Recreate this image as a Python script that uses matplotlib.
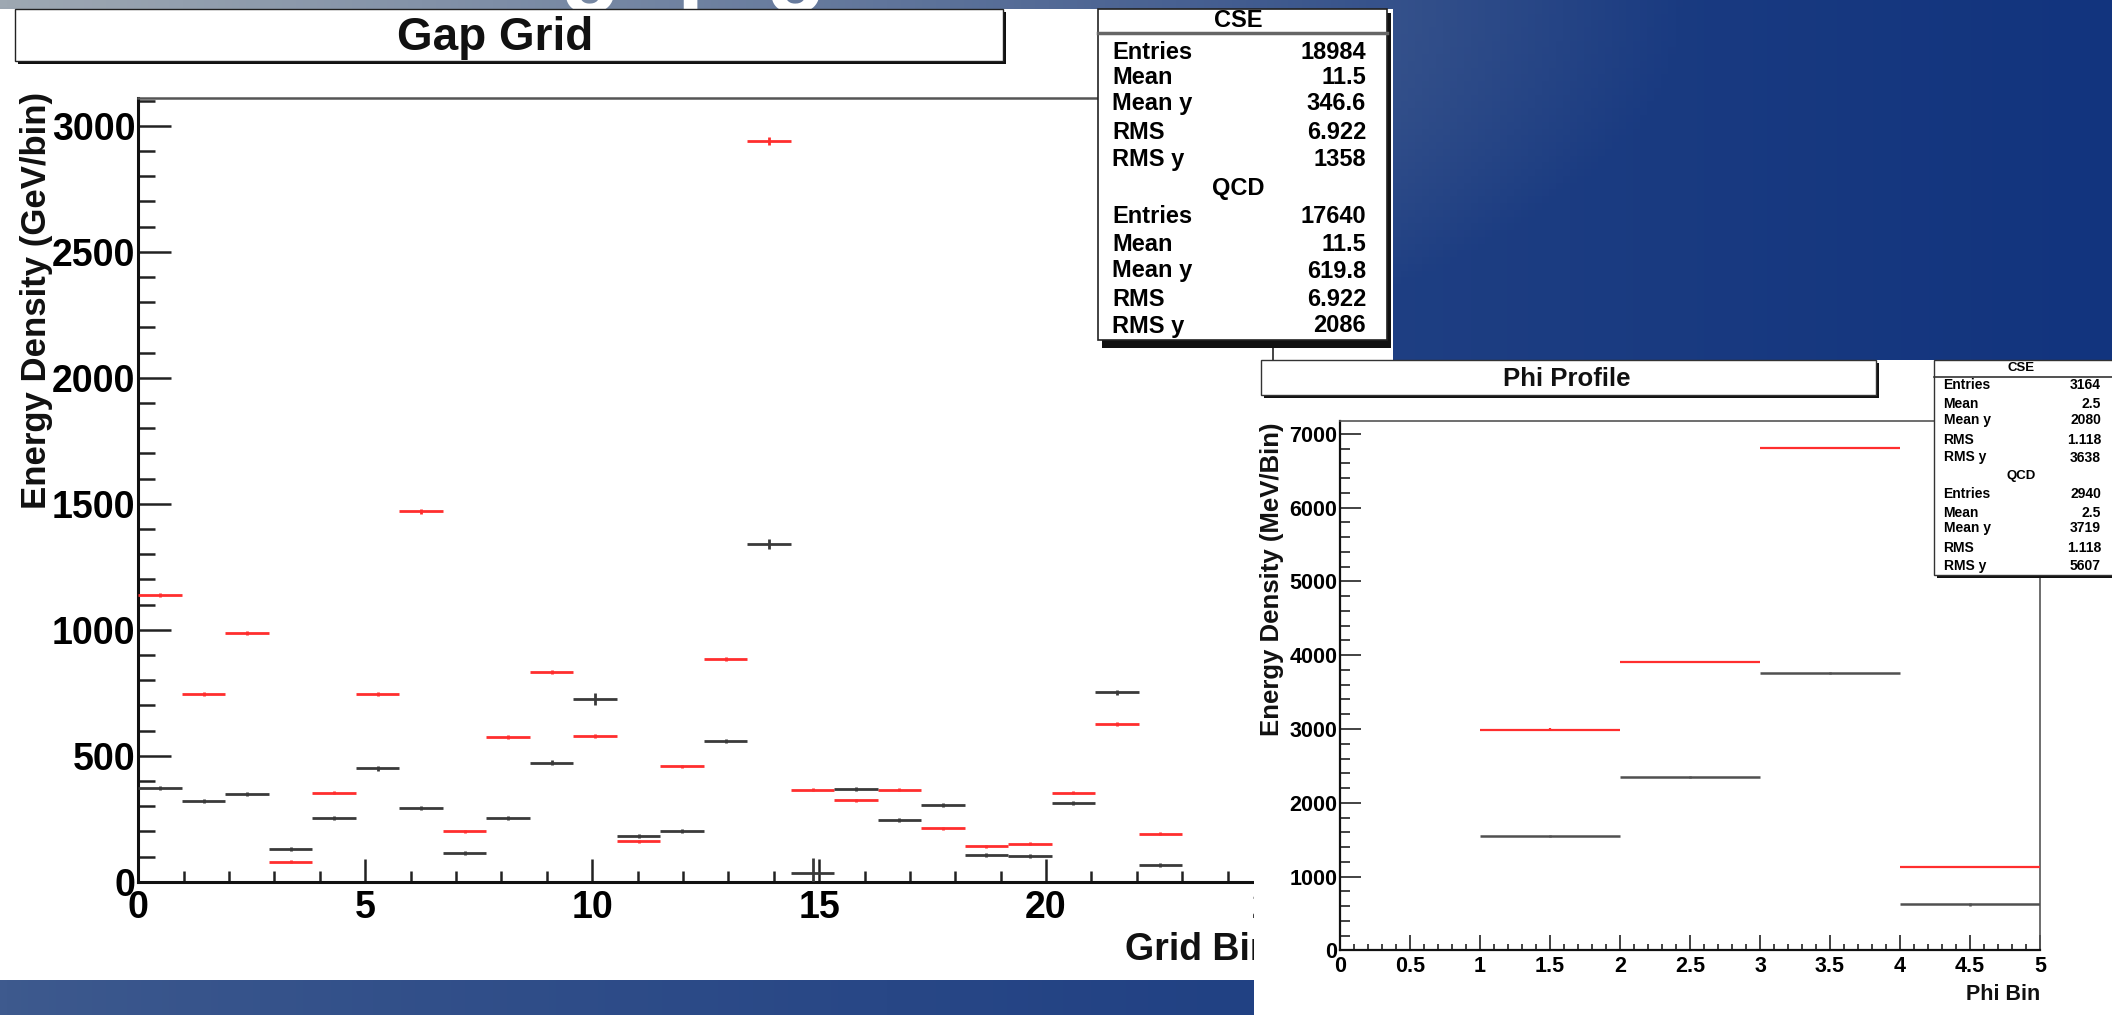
import numpy as np
import matplotlib
matplotlib.use("Agg")
import matplotlib.pyplot as plt
from matplotlib.patches import Rectangle
from matplotlib.ticker import MultipleLocator

plt.rcParams['font.family'] = ['Liberation Sans', 'DejaVu Sans']
plt.rcParams['font.weight'] = 'bold'

# ------------------------------------------------------------------ data
grid_title = "Gap Grid"
grid_xlabel = "Grid Bin"
grid_ylabel = "Energy Density (GeV/bin)"
grid_nbins = 24
grid_lo, grid_hi = 0.0, 23.0
grid_cse = [371, 321, 348, 131, 251, 451, 291, 113, 251, 472, 725, 181,
            202, 558, 1340, 33, 367, 244, 304, 106, 103, 311, 752, 66]
grid_cse_err = [8, 8, 8, 8, 8, 10, 8, 8, 8, 10, 23, 8,
                8, 8, 20, 60, 8, 8, 8, 8, 8, 8, 10, 8]
grid_qcd = [1138, 744, 987, 79, 353, 744, 1470, 200, 575, 831, 579, 161,
            458, 882, 2940, 364, 323, 364, 212, 140, 150, 353, 626, 190]
grid_qcd_err = [8, 8, 8, 6, 6, 8, 10, 6, 8, 8, 8, 6,
                6, 8, 16, 6, 6, 6, 6, 6, 6, 6, 8, 6]
grid_stats_cse = [("Entries", "18984"), ("Mean", "11.5"), ("Mean y", "346.6"),
                  ("RMS", "6.922"), ("RMS y", "1358")]
grid_stats_qcd = [("Entries", "17640"), ("Mean", "11.5"), ("Mean y", "619.8"),
                  ("RMS", "6.922"), ("RMS y", "2086")]

phi_title = "Phi Profile"
phi_xlabel = "Phi Bin"
phi_ylabel = "Energy Density (MeV/Bin)"
phi_edges = [1, 2, 3, 4, 5]
phi_cse = [1546, 2350, 3762, 623]
phi_qcd = [2992, 3913, 6808, 1130]
phi_err = [15, 15, 15, 15]
phi_stats_cse = [("Entries", "3164"), ("Mean", "2.5"), ("Mean y", "2080"),
                 ("RMS", "1.118"), ("RMS y", "3638")]
phi_stats_qcd = [("Entries", "2940"), ("Mean", "2.5"), ("Mean y", "3719"),
                 ("RMS", "1.118"), ("RMS y", "5607")]

# ------------------------------------------------------------------ layout helpers
W, H, DPI = 2112, 1015, 100
fig = plt.figure(figsize=(W / DPI, H / DPI), dpi=DPI)


def rect(x0, y0, x1, y1):
    return [x0 / W, 1 - y1 / H, (x1 - x0) / W, (y1 - y0) / H]


def overlay(z):
    a = fig.add_axes([0, 0, 1, 1], zorder=z)
    a.set_xlim(0, W)
    a.set_ylim(H, 0)
    a.set_axis_off()
    a.patch.set_alpha(0)
    return a


RED = '#ff2e2e'
BLK = '#3a3a3a'

# ------------------------------------------------------------------ background
ax_bg = overlay(0)
nx, ny = 300, 150
xx = np.linspace(0, 1, nx)[None, :]
yy = np.linspace(0, 1, ny)[:, None]
base_l = np.array([62, 90, 142]) / 255
base_r = np.array([18, 52, 126]) / 255
t = (xx ** 0.8) * np.ones_like(yy)
img = base_l * (1 - t[..., None]) + base_r * t[..., None]
grey = np.array([158, 168, 178]) / 255
g = np.clip(1 - np.sqrt((xx / 0.8) ** 2 + (yy / 0.5) ** 2), 0, 1)
img = img * (1 - g[..., None]) + grey * g[..., None]
ax_bg.imshow(img, extent=[0, W, H, 0], aspect='auto', zorder=0)
ax_bg.text(560, -8, "gap g", color='white', fontsize=72, fontweight='bold',
           ha='left', va='baseline', zorder=1)
ax_bg.add_patch(Rectangle((0, 9), 1393, 971, facecolor='white', edgecolor='none', zorder=2))

# ------------------------------------------------------------------ left plot
axL = fig.add_axes(rect(138.3, 98, 1273, 881.7), zorder=1)
edges = np.linspace(grid_lo, grid_hi, grid_nbins + 1)
cent = 0.5 * (edges[:-1] + edges[1:])
hw = 0.5 * np.diff(edges)
axL.errorbar(cent, grid_qcd, xerr=hw, yerr=grid_qcd_err, fmt='none',
             ecolor=RED, elinewidth=2.0, capsize=0, zorder=3)
axL.errorbar(cent, grid_cse, xerr=hw, yerr=grid_cse_err, fmt='none',
             ecolor=BLK, elinewidth=2.0, capsize=0, zorder=3)
axL.set_xlim(0, 25)
axL.set_ylim(0, 3110)
axL.xaxis.set_major_locator(MultipleLocator(5))
axL.xaxis.set_minor_locator(MultipleLocator(1))
axL.yaxis.set_major_locator(MultipleLocator(500))
axL.yaxis.set_minor_locator(MultipleLocator(100))
axL.tick_params(axis='both', which='both', direction='in', top=False, right=False,
                width=1.8, color='#222222')
axL.tick_params(axis='y', which='major', length=23.8, pad=2, labelsize=27)
axL.tick_params(axis='y', which='minor', length=12.2)
axL.tick_params(axis='x', which='major', length=16.5, pad=6, labelsize=27)
axL.tick_params(axis='x', which='minor', length=8)
for lab in axL.get_xticklabels() + axL.get_yticklabels():
    lab.set_fontweight('bold')
for s in ('left', 'bottom'):
    axL.spines[s].set_linewidth(2.2)
    axL.spines[s].set_color('#111111')
axL.spines['top'].set_linewidth(1.8)
axL.spines['top'].set_color('#555555')
axL.spines['right'].set_linewidth(1.4)
axL.spines['right'].set_color('#444444')

decoL = overlay(2)
decoL.text(37, 92, grid_ylabel, rotation=90, ha='center', va='top',
           fontsize=25, fontweight='bold', color='#111111')
decoL.text(1273, 950, grid_xlabel, ha='right', va='center',
           fontsize=27, fontweight='bold', color='#111111')
# title box with shadow
decoL.add_patch(Rectangle((18, 12), 988, 52, facecolor='#111111', edgecolor='none', zorder=1))
decoL.add_patch(Rectangle((15, 9), 988, 52, facecolor='white', edgecolor='#222222',
                          linewidth=1.0, zorder=2))
decoL.text(495, 38, grid_title, ha='center', va='center', fontsize=33,
           fontweight='bold', color='#111111', zorder=3)
# stats box
decoL.add_patch(Rectangle((1102, 13), 289, 335, facecolor='#111111', edgecolor='none', zorder=1))
decoL.add_patch(Rectangle((1098, 9), 289, 331, facecolor='white', edgecolor='#222222',
                          linewidth=1.2, zorder=2))
decoL.plot([1098, 1387], [33, 33], color='#666666', lw=2.5, zorder=3)
decoL.text(1238, 20, "CSE", ha='center', va='center', fontsize=17, fontweight='bold', zorder=3)
rows_y = [52, 77, 103, 132, 159]
for (lab, val), y in zip(grid_stats_cse, rows_y):
    decoL.text(1112, y, lab, ha='left', va='center', fontsize=17, fontweight='bold', zorder=3)
    decoL.text(1366, y, val, ha='right', va='center', fontsize=17, fontweight='bold', zorder=3)
decoL.text(1238, 188, "QCD", ha='center', va='center', fontsize=17, fontweight='bold', zorder=3)
rows_y = [216, 244, 271, 299, 326]
for (lab, val), y in zip(grid_stats_qcd, rows_y):
    decoL.text(1112, y, lab, ha='left', va='center', fontsize=17, fontweight='bold', zorder=3)
    decoL.text(1366, y, val, ha='right', va='center', fontsize=17, fontweight='bold', zorder=3)

# ------------------------------------------------------------------ right panel
bgR = overlay(3)
bgR.add_patch(Rectangle((1254, 360), W - 1254, H - 360, facecolor='white', edgecolor='none'))

axR = fig.add_axes(rect(1340, 420.5, 2040, 950.4), zorder=4)
pe = np.array(phi_edges, dtype=float)
pc = 0.5 * (pe[:-1] + pe[1:])
phw = 0.5 * np.diff(pe)
axR.errorbar(pc, phi_qcd, xerr=phw, yerr=phi_err, fmt='none', ecolor=RED,
             elinewidth=1.6, capsize=0, zorder=3)
axR.errorbar(pc, phi_cse, xerr=phw, yerr=phi_err, fmt='none', ecolor='#505050',
             elinewidth=1.8, capsize=0, zorder=3)
axR.set_xlim(0, 5)
axR.set_ylim(0, 7180)
axR.xaxis.set_major_locator(MultipleLocator(0.5))
axR.xaxis.set_minor_locator(MultipleLocator(0.1))
axR.yaxis.set_major_locator(MultipleLocator(1000))
axR.yaxis.set_minor_locator(MultipleLocator(200))
axR.xaxis.set_major_formatter(plt.FuncFormatter(lambda v, p: f"{v:g}"))
axR.tick_params(axis='both', which='both', direction='in', top=False, right=False,
                width=1.2, color='#222222')
axR.tick_params(axis='y', which='major', length=15, pad=2, labelsize=15.5)
axR.tick_params(axis='y', which='minor', length=7)
axR.tick_params(axis='x', which='major', length=11, pad=4, labelsize=15.5)
axR.tick_params(axis='x', which='minor', length=4.5)
for lab in axR.get_xticklabels() + axR.get_yticklabels():
    lab.set_fontweight('bold')
for s in ('left', 'bottom'):
    axR.spines[s].set_linewidth(1.6)
    axR.spines[s].set_color('#111111')
for s in ('top', 'right'):
    axR.spines[s].set_linewidth(1.2)
    axR.spines[s].set_color('#555555')

decoR = overlay(5)
decoR.text(1272, 422, phi_ylabel, rotation=90, ha='center', va='top',
           fontsize=18.5, fontweight='bold', color='#111111')
decoR.text(2040, 995, phi_xlabel, ha='right', va='center',
           fontsize=15.5, fontweight='bold', color='#111111')
decoR.add_patch(Rectangle((1264, 363), 615, 35, facecolor='#111111', edgecolor='none', zorder=1))
decoR.add_patch(Rectangle((1261, 360), 615, 35, facecolor='white', edgecolor='#333333',
                          linewidth=1.0, zorder=2))
decoR.text(1567, 379, phi_title, ha='center', va='center', fontsize=18.5,
           fontweight='bold', color='#111111', zorder=3)
decoR.add_patch(Rectangle((1937, 363), 200, 215, facecolor='#111111', edgecolor='none', zorder=1))
decoR.add_patch(Rectangle((1934, 360), 200, 215, facecolor='white', edgecolor='#333333',
                          linewidth=1.0, zorder=2))
decoR.plot([1934, 2112], [376.6, 376.6], color='#333333', lw=1.2, zorder=3)
decoR.text(2021, 368, "CSE", ha='center', va='center', fontsize=9.5, fontweight='bold', zorder=3)
rows_y = [385, 404, 420, 440, 457.5]
for (lab, val), y in zip(phi_stats_cse, rows_y):
    decoR.text(1943.5, y, lab, ha='left', va='center', fontsize=10, fontweight='bold', zorder=3)
    decoR.text(2101, y, val, ha='right', va='center', fontsize=10, fontweight='bold', zorder=3)
decoR.text(2021, 476.5, "QCD", ha='center', va='center', fontsize=9.5, fontweight='bold', zorder=3)
rows_y = [493.7, 512.6, 528, 548, 566]
for (lab, val), y in zip(phi_stats_qcd, rows_y):
    decoR.text(1943.5, y, lab, ha='left', va='center', fontsize=10, fontweight='bold', zorder=3)
    decoR.text(2101, y, val, ha='right', va='center', fontsize=10, fontweight='bold', zorder=3)

fig.savefig("out.png", dpi=DPI)
